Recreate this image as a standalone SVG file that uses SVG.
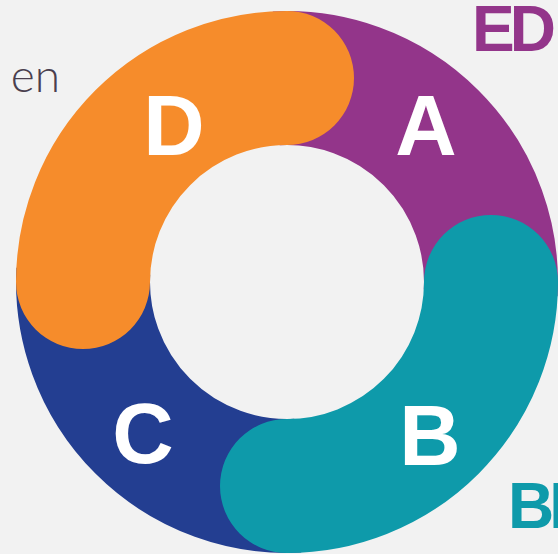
<svg xmlns="http://www.w3.org/2000/svg" width="558" height="554" viewBox="0 0 558 554">
<style>
.seg{fill:none;stroke-width:134}
.cap{stroke-linecap:round}
.lbl{font-family:"Liberation Sans",Arial,sans-serif;font-weight:bold;fill:#ffffff;text-anchor:middle;font-size:85px}
.big{font-family:"Liberation Sans",Arial,sans-serif;font-weight:bold;font-size:64px;letter-spacing:-5px}
</style>
<rect width="558" height="554" fill="#f2f2f2"/>
<g id="connectors"></g>
<g id="segA">
<path class="seg" d="M276.3,78.3 A204,204 0 0 1 490.7,292.7" stroke="#93358a"/>
<text class="lbl" x="426" y="155">A</text>
</g>
<g id="segC">
<path class="seg" d="M297.7,485.7 A204,204 0 0 1 83.3,271.3" stroke="#233e91"/>
<text class="lbl" x="143" y="463">C</text>
</g>
<g id="segD">
<path class="seg cap" d="M83,282 A204,204 0 0 1 287,78" stroke="#f68c2b"/>
<text class="lbl" x="174" y="155">D</text>
</g>
<g id="segB">
<path class="seg cap" d="M491,282 A204,204 0 0 1 287,486" stroke="#0e9aaa"/>
<text class="lbl" x="430" y="465">B</text>
</g>
<g id="labels">
<text class="big" x="472" y="51" fill="#93358a">ED</text>
<text class="big" x="508" y="528" fill="#0e9aaa" font-size="63">BE</text>
<text x="60" y="92" text-anchor="end" font-family="Lato,'Open Sans',sans-serif" font-weight="300" font-size="46" fill="#4a3f4e">en</text>
</g>
</svg>
